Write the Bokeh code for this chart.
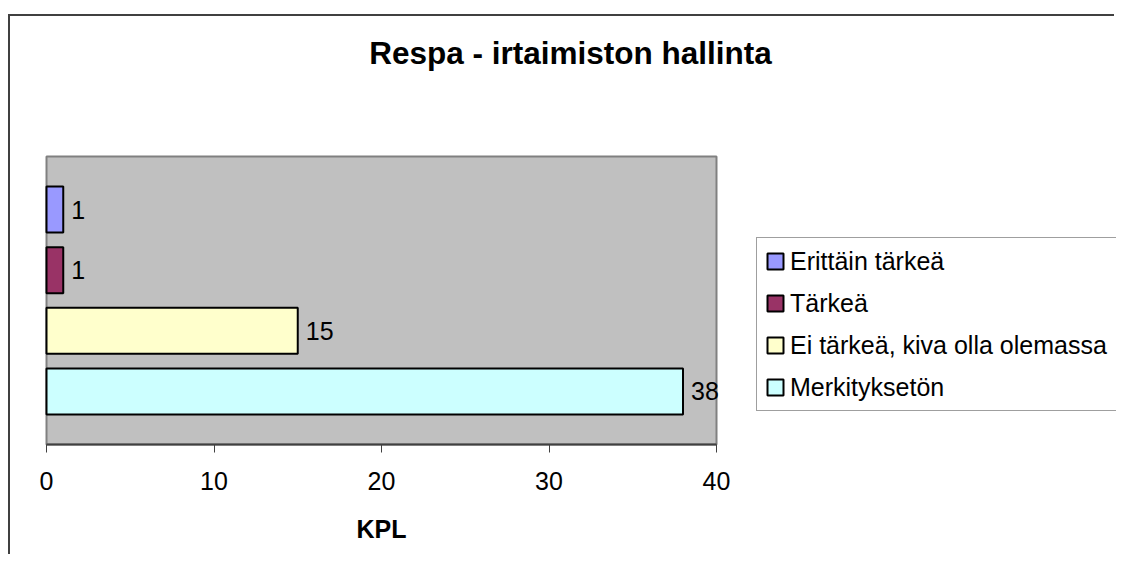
from bokeh.plotting import figure
from bokeh.models import ColumnDataSource, Range1d, FixedTicker, Legend, LegendItem, Label
from bokeh.core.properties import value
from bokeh.embed import file_html
from bokeh.resources import INLINE

# ---- data ----
categories = ["Erittäin tärkeä", "Tärkeä", "Ei tärkeä, kiva olla olemassa", "Merkityksetön"]
counts = [1, 1, 15, 38]
colors = ["#9999FF", "#993366", "#FFFFCC", "#CCFFFF"]
x_ticks = [0, 10, 20, 30, 40]
title_text = "Respa - irtaimiston hallinta"
x_label = "KPL"

FONT = "Liberation Sans"

# category slots: first category on top
ypos = [len(categories) - i for i in range(len(categories))]
PAD = 0.875                      # padding of plot area around the category slots
y_lo, y_hi = min(ypos) - PAD, max(ypos) + PAD
x_lo, x_hi = x_ticks[0], x_ticks[-1]

W, H = 1106, 540
# whole canvas is the frame; plot area is drawn inside it
px_x = 670 / (x_hi - x_lo)
px_y = 288 / (y_hi - y_lo)
x_range = Range1d(x_lo - 36 / px_x, x_hi + (W - 36 - 670) / px_x)
y_range = Range1d(y_lo - (H - 140 - 288) / px_y, y_hi + 140 / px_y)

p = figure(width=W, height=H, x_range=x_range, y_range=y_range,
           output_backend="svg", toolbar_location=None, y_axis_location=None,
           min_border=0, min_border_left=0, min_border_right=0,
           min_border_top=0, min_border_bottom=0)
p.styles = {"border-left": "2px solid #404040", "border-top": "2px solid #404040",
            "margin": "14px 0px 0px 8px"}

p.background_fill_color = "white"
p.border_fill_color = "white"
p.outline_line_color = None
p.xgrid.grid_line_color = None
p.ygrid.grid_line_color = None

# plot area
p.quad(left=[x_lo], right=[x_hi], bottom=[y_lo], top=[y_hi],
       fill_color="#C0C0C0", line_color="#808080", line_width=2)

items = []
for i, c in enumerate(categories):
    s = ColumnDataSource(dict(y=[ypos[i]], val=[counts[i]]))
    r = p.hbar(y="y", left=0, right="val", height=0.76, source=s,
               fill_color=colors[i], line_color="black", line_width=2)
    items.append(LegendItem(label=c, renderers=[r]))

src = ColumnDataSource(dict(y=ypos, val=counts, lbl=[str(v) for v in counts]))
p.text(x="val", y="y", text="lbl", source=src, x_offset=8,
       text_align="left", text_baseline="middle",
       text_font=value(FONT), text_font_size="25px", text_color="black")

# x axis at the bottom of the plot area
ax = p.xaxis[0]
ax.fixed_location = y_lo
ax.bounds = (x_lo, x_hi)
ax.ticker = FixedTicker(ticks=x_ticks)
ax.minor_tick_line_color = None
ax.major_tick_in = 0
ax.major_tick_out = 8
ax.axis_line_color = "#404040"
ax.axis_line_width = 2
ax.major_tick_line_color = "#404040"
ax.major_tick_line_width = 1
ax.major_label_text_font = FONT
ax.major_label_text_font_size = "25px"
ax.major_label_text_color = "black"
ax.major_label_standoff = 19
ax.axis_label = x_label
ax.axis_label_text_font = FONT
ax.axis_label_text_font_size = "25px"
ax.axis_label_text_font_style = "bold"
ax.axis_label_text_color = "black"
ax.axis_label_standoff = 22

# title
p.add_layout(Label(x=560, y=H - 18, x_units="screen", y_units="screen",
                   text=title_text, text_align="center", text_baseline="top",
                   text_font=FONT, text_font_size="31.5px", text_font_style="bold",
                   text_color="black"))

legend = Legend(items=items, location=(746, 145),
                label_text_font=FONT, label_text_font_size="25px",
                label_text_color="black",
                glyph_width=20, glyph_height=20, label_height=30, label_width=335,
                label_standoff=5, spacing=12, padding=8, margin=0,
                border_line_color="#404040", border_line_width=1,
                background_fill_color="white", background_fill_alpha=1)
p.add_layout(legend, "center")

open("out.html", "w").write(file_html(p, INLINE))
